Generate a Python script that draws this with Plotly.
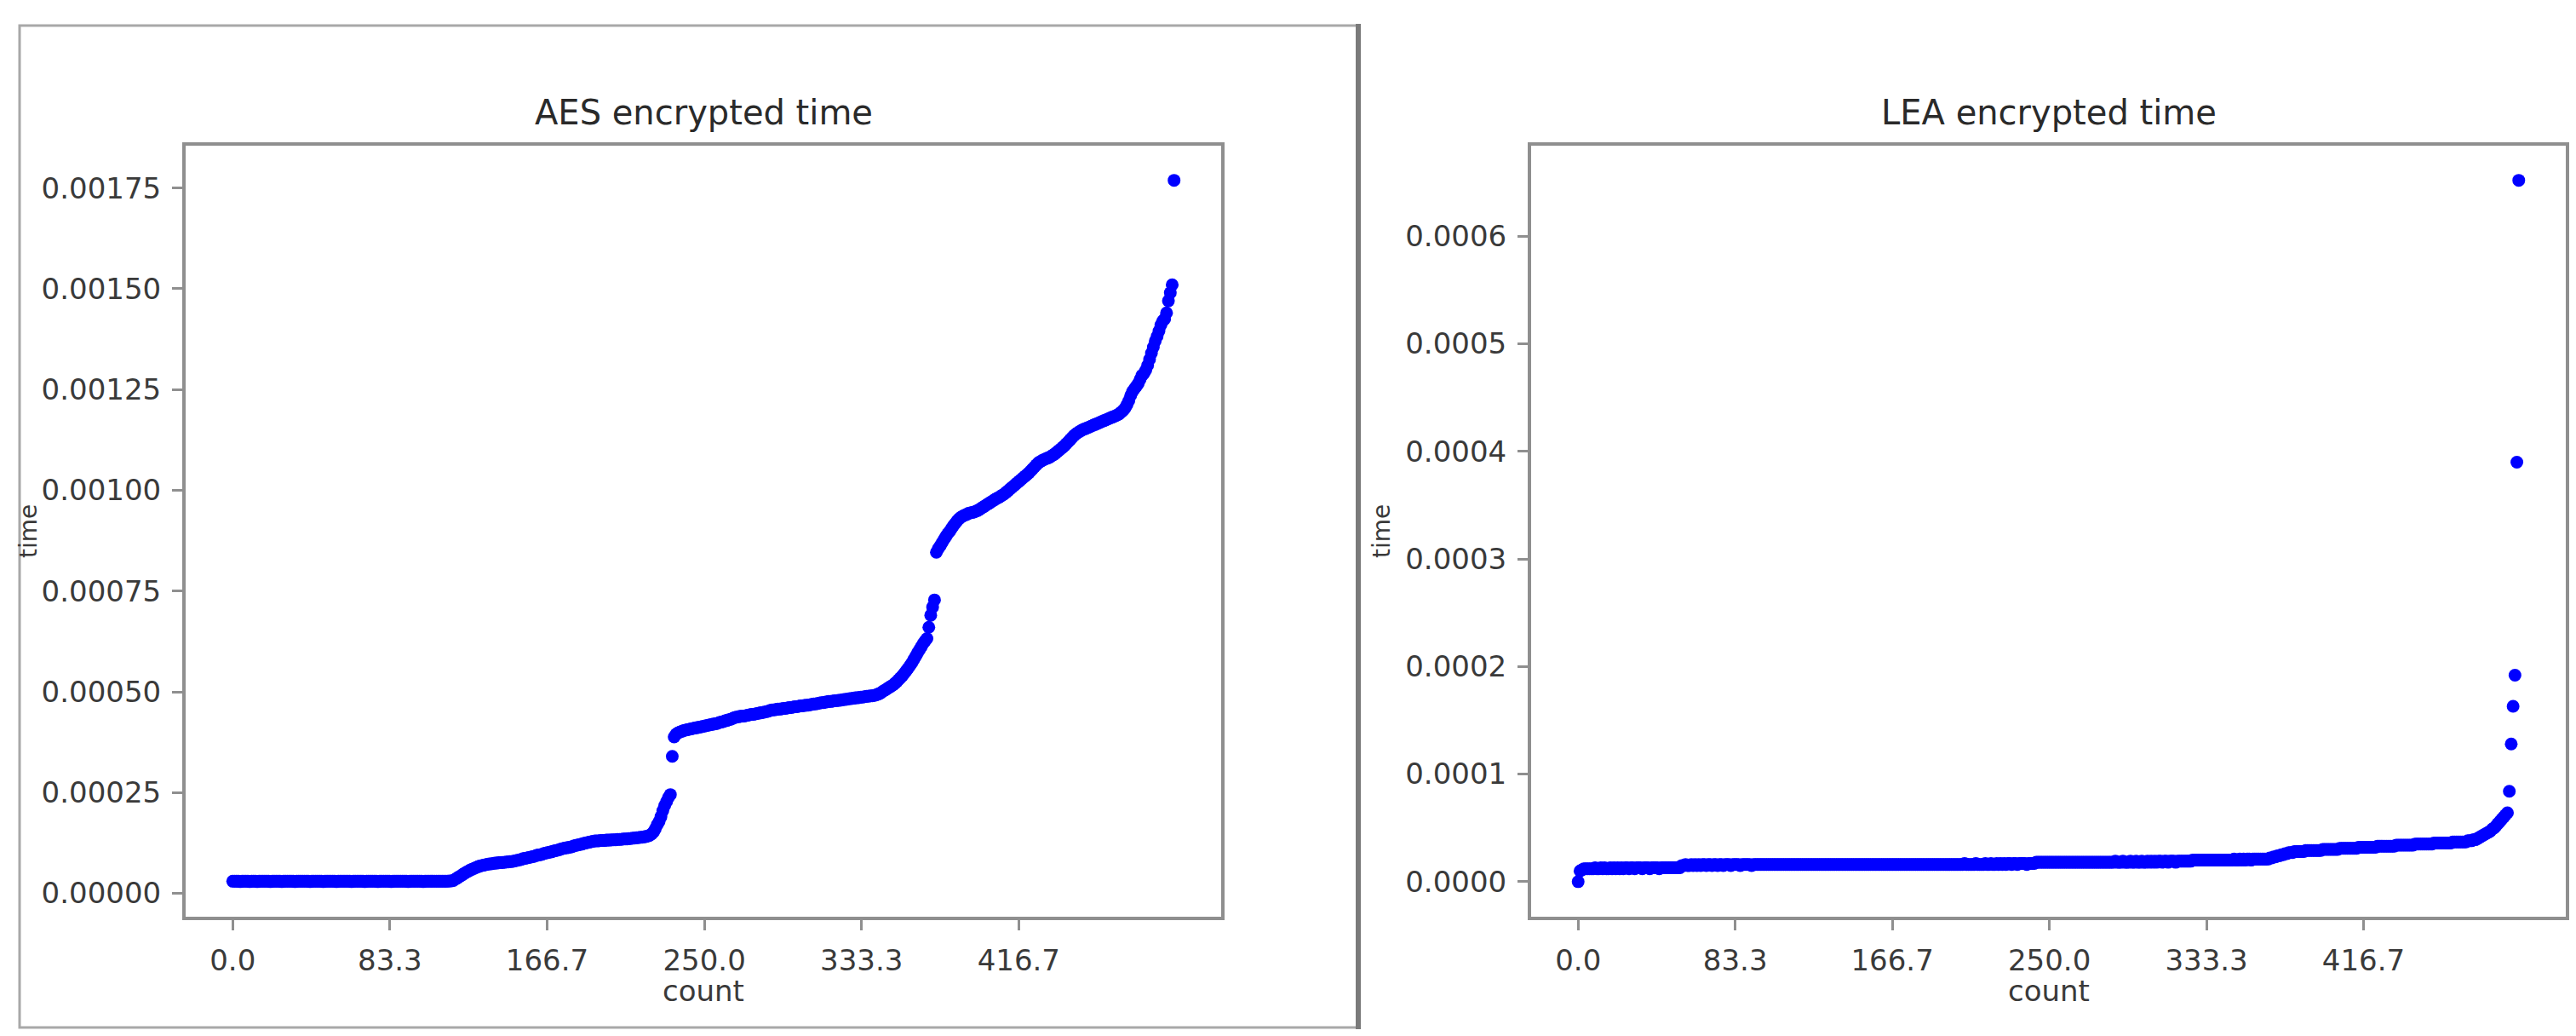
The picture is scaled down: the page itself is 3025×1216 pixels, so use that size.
import plotly.graph_objects as go

# ---------------- data (microseconds, sorted encryption times) ----------------
aes_seg_a = [30,30,30,30,29,30,30,30,30,29,
             30,30,30,29,30,30,30,30,30,30,
             29,30,30,30,30,30,29,30,30,30,
             30,30,30,29,30,30,30,30,30,30,
             30,29,30,30,30,30,30,30,29,30,
             30,30,30,30,30,29,30,30,30,30,
             30,30,30,29,30,30,30,30,30,30,
             29,30,30,30,30,30,30,29,30,30,
             30,30,30,30,29,30,30,30,30,30,
             30,30,30,29,30,30,30,30,30,30,
             30,29,30,30,30,30,30,30,30,30,
             30,30,30,30,30,31,31]
aes_seg_b = [32,35,38,41,44,47,50,53,55,58,60,62,64,66,68]
aes_seg_c = [69,70,71,72,73,73,74,75,75,76,76,77,77,78,78,79,79,80,81]
aes_seg_d = [82,83,84,86,87,88,89,90,91,92,94,95,96,97,99]
aes_seg_e = [100,101,102,103,105,106,107,108,110,111,112,113,114,115,116,118,119,120,121,122,124,125,126,127,128,129]
aes_seg_f = [130,130,130,131,131,131,132,132,132,133,133,133,134,134,134,135,135,135,136,136,137,137,138,138,139,139,140,141,142,144]
aes_seg_g = [147,152,160,170,178,190,205,218,228,238,245,340,388,395]
aes_seg_h = [398,400,402,404,405,406,407,408,409,410,411,412,413,414,415,416,417,418,419,420,421,422,424,425,426,428,429,431,432,434,436]
aes_seg_i = [437,438,439,440,440,441,442,443,444,444,
             445,446,447,448,449,450,451,452,454,455,
             455,456,457,457,458,459,459,460,461,461,
             462,463,463,464,465,465,466,467,467,468,
             469,470,470,471,472,473,473,474,475,476,
             476,477,478,478,479,479,480,481,481,482,
             483,483,484,485,485,486,487,487,488,489,
             489,490,490,491,492]
aes_seg_j = [494,496,499,502,505,508,511,514,517,521,525,530,535,540,546,552,558,565,572,580,588,596,604,612,620,626,632,660,690,710,728,846]
aes_seg_k = [855,862,870,878,885,892,898,905,912,918,924,929,933,936,938,940,943]
aes_seg_l = [944,945,946,948,950,953,956,959,962,965,968,971,974,977,980,982,985,988,991,995,999,1003,1007,1011,1015,1019,1023,1027,1031,1035,1039,1043,1048,1053,1058,1063,1068]
aes_seg_m = [1071,1074,1076,1078,1080,1082,1085,1088,1091,1095,1099,1103,1107,1111,1116,1121,1126,1131,1136,1140,1143,1146,1149,1151,1153,1155,1157,1159,1161,1163,1165,1167,1169,1171,1173,1175,1177,1179]
aes_seg_n = [1181,1183,1185,1187,1190,1194,1198,1204,1212,1222,1235,1245,1252,1258,1265,1275,1285,1290,1298,1310,1325,1340,1355,1370,1382,1395,1410,1420,1425,1440,1470,1490,1510,1769]

lea_seg_0 = [0,10,11]
lea_seg_1 = [12,12,12,12,12,12,13,12,12,13, 12,13,12,12,13,12,13,12,13,12,
             13,12,13,13,12,13,13,12,13,13, 13,12,13,13,13,12,13,13,13,13,
             12,13,13,13,13,13,13,13,13,13, 13,13]
lea_seg_2 = [15,15,16,15,15,16,15,16,15,16,15,16,16,15,16,16,15,16,16,15,
             16,16,15,16,16,16,15,16,16,16,16,15,16,16,16,16,16,15,16,16,
             16,16,16,16,16,16,16,16,16,16,16,16,16,16,16,16,16,16,16,16,
             16,16,16,16,16,16,16,16,16,16,16,16,16,16,16,16,16,16,16,16,
             16,16,16,16,16,16,16,16,16,16,16,16,16,16,16,16,16,16,16,16,
             16,16,16,16,16,16,16,16,16,16,16,16,16,16,16,16,16,16,16,16,
             16,16,16,16,16,16,16,16,16,16,16,16,16,16,16,16,16,16,16,16,
             16,16,16,16,16,16,16,16,16,16,17,16,16,16,16,16,17,16,16,16,
             16,17,16,16,17,16,16,17,16,17,16,17,16,17,17,16,17,17,16,17,
             17,17,17,16,17,17,17,17]
lea_seg_3 = [18,18,18,18,18,18,18,18,18,18,18,18,18,18,18,18,18,18,18,18,
             18,18,18,18,18,18,18,18,18,18,18,18,18,18,18,18,18,18,18,18,
             18,18,19,18,18,18,19,18,18,18,19,18,18,19,18,18,19,18,18,19,
             18,19,18,19,18,19,19,18,19,19,18,19,19,19,18,19,19,19,19,19,
             19,19,19]
lea_seg_4 = [20,20,20,20,20,20,20,20,20,20,20,20,20,20,20,20,20,20,20,20,
             20,20,21,20,20,21,20,21,20,21,21,20,21,21,21,21,21,21,21,21]
lea_seg_5 = [21,22,22,23,23,24,24,25,25,26,26,27,27,27,28,28,28,28]
lea_seg_6 = [28,28,29,29,29,29,29,29,29,29,
             29,30,30,30,30,30,30,30,30,30,
             31,31,31,31,31,31,31,31,31,31,
             32,32,32,32,32,32,32,32,32,32,
             33,33,33,33,33,33,33,33,33,33,
             34,34,34,34,34,34,34,34,34,34,
             35,35,35,35,35,35,35,35,35,35,
             36,36,36,36,36,36,36,36,36,36,
             37,37,37,37,37,37,37,37,38,38]
lea_seg_7 = [38,39,39,40,41,42,43,44,45,46,47,49,50,52,54,56,58,60,62,64]
lea_seg_8 = [84,128,163,192,390,652]

x_tick_vals = [0, 500/6, 1000/6, 250, 2000/6, 2500/6]
x_tick_text = ["0.0", "83.3", "166.7", "250.0", "333.3", "416.7"]
aes_y_ticks = [0, 0.00025, 0.0005, 0.00075, 0.001, 0.00125, 0.0015, 0.00175]
lea_y_ticks = [0, 0.0001, 0.0002, 0.0003, 0.0004, 0.0005, 0.0006]

titles = ["AES encrypted time", "LEA encrypted time"]
x_label = "count"
y_label = "time"

aes_us = (aes_seg_a + aes_seg_b + aes_seg_c + aes_seg_d + aes_seg_e + aes_seg_f + aes_seg_g +
          aes_seg_h + aes_seg_i + aes_seg_j + aes_seg_k + aes_seg_l + aes_seg_m + aes_seg_n)
lea_us = (lea_seg_0 + lea_seg_1 + lea_seg_2 + lea_seg_3 + lea_seg_4 + lea_seg_5 +
          lea_seg_6 + lea_seg_7 + lea_seg_8)
assert len(aes_us) == 500, len(aes_us)
assert len(lea_us) == 500, len(lea_us)

aes_y = [v * 1e-6 for v in aes_us]
lea_y = [v * 1e-6 for v in lea_us]
aes_x = list(range(len(aes_y)))
lea_x = list(range(len(lea_y)))

# ---------------- figure ----------------
W, H = 3025, 1216
def px(x):
    return x / W
def py(y):
    return 1 - y / H

def mpl_range(vals):
    lo, hi = min(vals), max(vals)
    m = (hi - lo) * 0.05
    return [lo - m, hi + m]

fig = go.Figure()
mk = dict(color="#0000ff", size=15, line=dict(width=0))
fig.add_trace(go.Scatter(x=aes_x, y=aes_y, mode="markers", marker=mk, xaxis="x", yaxis="y", showlegend=False))
fig.add_trace(go.Scatter(x=lea_x, y=lea_y, mode="markers", marker=mk, xaxis="x2", yaxis="y2", showlegend=False))

tickfont = dict(family="DejaVu Sans", size=34, color="#3a3a3a")
axis_common = dict(showline=True, mirror=True, linecolor="#8f8f8f", linewidth=4,
                   ticks="outside", ticklen=12, tickwidth=3, tickcolor="#8f8f8f",
                   showgrid=False, zeroline=False, tickfont=tickfont, ticklabelstandoff=6)

ydom = [py(1068), py(162.5)]
fig.update_layout(
    width=W, height=H,
    margin=dict(l=0, r=0, t=0, b=0),
    paper_bgcolor="white", plot_bgcolor="white",
    xaxis=dict(domain=[px(210), px(1426)], range=mpl_range(aes_x), tickvals=x_tick_vals,
               ticktext=x_tick_text, anchor="y", **axis_common),
    yaxis=dict(domain=ydom, range=mpl_range(aes_y), tickvals=aes_y_ticks,
               tickformat=".5f", anchor="x", **axis_common),
    xaxis2=dict(domain=[px(1790), px(3005)], range=mpl_range(lea_x), tickvals=x_tick_vals,
                ticktext=x_tick_text, anchor="y2", **axis_common),
    yaxis2=dict(domain=ydom, range=mpl_range(lea_y), tickvals=lea_y_ticks,
                tickformat=".4f", anchor="x2", **axis_common),
)

annots = []
centers = [(px(210) + px(1426)) / 2, (px(1790) + px(3005)) / 2]
for c, t in zip(centers, titles):
    annots.append(dict(x=c, y=py(124), xref="paper", yref="paper", text=t, showarrow=False,
                       font=dict(family="DejaVu Sans", size=40, color="#2a2a2a"),
                       xanchor="center", yanchor="middle"))
    annots.append(dict(x=c, y=py(1155), xref="paper", yref="paper", text=x_label, showarrow=False,
                       font=dict(family="DejaVu Sans", size=34, color="#3a3a3a"),
                       xanchor="center", yanchor="middle"))
for xl in [px(25), px(1614)]:
    annots.append(dict(x=xl, y=py(616), xref="paper", yref="paper", text=y_label, showarrow=False,
                       textangle=-90, font=dict(family="DejaVu Sans", size=28, color="#3a3a3a"),
                       xanchor="center", yanchor="middle"))
fig.update_layout(annotations=annots)

fig.update_layout(shapes=[
    dict(type="rect", xref="paper", yref="paper", x0=px(15), x1=px(1587), y0=py(1198), y1=py(22),
         line=dict(color="#a8a8a8", width=3), layer="above"),
    dict(type="line", xref="paper", yref="paper", x0=px(1587), x1=px(1587), y0=py(1200), y1=py(20),
         line=dict(color="#7a7a7a", width=6), layer="above"),
])

fig.write_html("out.html", config={"displayModeBar": False})
